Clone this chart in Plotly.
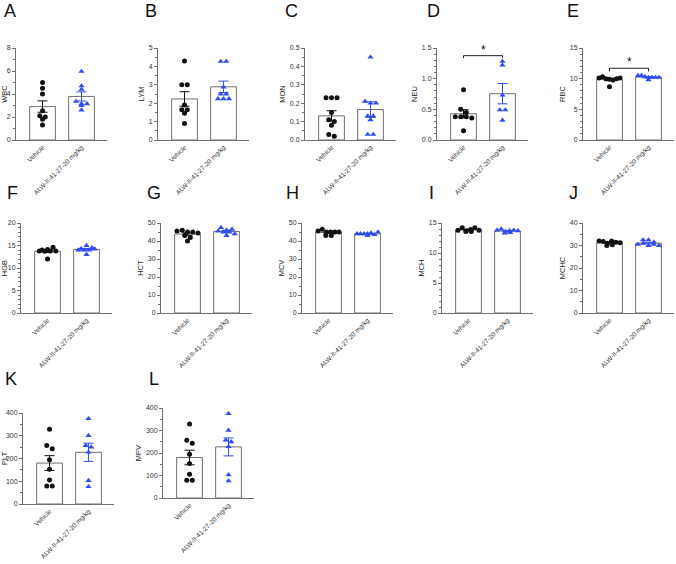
import numpy as np
import plotly.graph_objects as go

W, H = 676, 564

categories = ["Vehicle", "ALW-II-41-27-20 mg/kg"]
panel_letters = ["A", "B", "C", "D", "E", "F", "G", "H", "I", "J", "K", "L"]
measures = ["WBC", "LYM", "MON", "NEU", "RBC", "HGB", "HCT", "MCV", "MCH", "MCHC", "PLT", "MPV"]

wbc_vehicle = [5.0, 4.5, 4.0, 2.55, 2.1, 2.0, 1.8, 1.3]
wbc_alw = [5.96, 4.7, 4.4, 3.35, 3.15, 3.15, 3.0, 2.6]
lym_vehicle = [4.3, 3.0, 3.0, 1.9, 1.65, 1.65, 1.45, 0.9]
lym_alw = [4.27, 4.27, 2.87, 2.5, 2.5, 2.24, 2.24, 2.24]
mon_vehicle = [0.23, 0.23, 0.23, 0.15, 0.11, 0.10, 0.08, 0.03, 0.02]
mon_alw = [0.45, 0.21, 0.20, 0.20, 0.13, 0.13, 0.11, 0.03, 0.03]
neu_vehicle = [0.82, 0.50, 0.45, 0.38, 0.38, 0.38, 0.36, 0.15]
neu_alw = [1.28, 1.22, 0.73, 0.49, 0.49, 0.32]
rbc_vehicle = [10.1, 10.3, 10.0, 9.9, 9.8, 10.0, 10.1, 8.7]
rbc_alw = [10.5, 10.5, 10.3, 10.2, 10.2, 10.2, 10.2, 9.8]
hgb_vehicle = [14.0, 14.1, 13.8, 13.7, 14.6, 13.8, 13.8, 12.0]
hgb_alw = [14.3, 14.0, 15.0, 14.5, 14.0, 13.0, 14.0, 14.2]
hct_vehicle = [45.5, 46.0, 45.0, 45.0, 44.5, 43.0, 42.0, 40.0]
hct_alw = [47.5, 45.5, 46.0, 45.0, 46.5, 45.0, 43.0, 44.0]
mcv_vehicle = [45.5, 46.5, 45.0, 45.0, 45.0, 45.0, 43.0, 43.0]
mcv_alw = [44.0, 44.0, 44.0, 44.0, 44.5, 43.5, 43.0, 45.0]
mch_vehicle = [13.8, 14.2, 13.7, 13.9, 14.2, 13.6, 13.8, 13.6]
mch_alw = [13.8, 14.0, 13.6, 13.3, 13.7, 13.4, 13.8, 13.7]
mchc_vehicle = [32.0, 30.0, 31.8, 31.0, 32.0, 31.5, 30.3, 31.2]
mchc_alw = [30.5, 32.5, 31.0, 30.0, 32.5, 30.5, 31.5, 30.0]
plt_vehicle = [329, 257, 243, 194, 153, 106, 79, 79]
plt_alw = [375, 301, 257, 250, 228, 103, 76]
mpv_vehicle = [329, 257, 243, 194, 153, 106, 79, 79]
mpv_alw = [375, 301, 257, 250, 228, 103, 76]

vehicle_data = [wbc_vehicle, lym_vehicle, mon_vehicle, neu_vehicle, rbc_vehicle, hgb_vehicle,
                hct_vehicle, mcv_vehicle, mch_vehicle, mchc_vehicle, plt_vehicle, mpv_vehicle]
alw_data = [wbc_alw, lym_alw, mon_alw, neu_alw, rbc_alw, hgb_alw,
            hct_alw, mcv_alw, mch_alw, mchc_alw, plt_alw, mpv_alw]

# axis scales: (ymax, major dtick, minor dtick, tickformat)
y_max = [8, 5, 0.5, 1.5, 15, 20, 50, 50, 15, 40, 400, 400]
y_dtick = [2, 1, 0.1, 0.5, 5, 5, 10, 10, 5, 10, 100, 100]
y_minor = [1, 0.5, 0.05, 0.1, 1, 1, 5, 5, 1, 5, 50, 50]
y_fmt = ["", "", ".1f", ".1f", "", "", "", "", "", "", "", ""]

# layout in pixels: y-axis x position, top y, zero y
axis_x = [16, 158, 305, 437, 583, 21, 161, 302, 442, 583, 23, 163]
axis_top = [48, 48, 48, 48, 48, 223, 223, 223, 223, 223, 413, 408]
axis_zero = [140, 140, 140, 140, 140, 313, 313, 313, 313, 313, 504, 498]
letter_pos = [(2, 11), (143, 11), (283, 11), (425, 11), (565, 11),
              (5, 193), (145, 193), (284, 193), (427, 193), (567, 193),
              (3, 379), (147, 379)]

XR = (-0.68, 1.65)
PX_PER_CAT = 39.0
BLACK = "#111111"
BLUE = "#2f4cf5"
GRAY = "#707070"


def swarm(values, py_per_unit, d_px, max_span_px=21.0):
    vals = np.asarray(values, float)
    order = np.argsort(-vals, kind="stable")
    offsets = np.zeros(len(vals))
    rows = []
    for i in order:
        if rows and abs(vals[rows[-1][0]] - vals[i]) * py_per_unit < d_px * 0.6:
            rows[-1].append(i)
        else:
            rows.append([i])
    for r in rows:
        r = sorted(r)  # keep data order within a row
        n = len(r)
        step = d_px
        if n > 1:
            step = min(d_px, max_span_px / (n - 1))
        for k, i in enumerate(r):
            offsets[i] = (k - (n - 1) / 2) * step / PX_PER_CAT
    return offsets


fig = go.Figure()
annotations = []
shapes = []
for p in range(12):
    ax = "" if p == 0 else str(p + 1)
    xref, yref = "x" + ax, "y" + ax
    x0 = axis_x[p] / W
    x1 = (axis_x[p] + (XR[1] - XR[0]) * PX_PER_CAT) / W
    yd0 = 1 - axis_zero[p] / H
    yd1 = 1 - axis_top[p] / H
    py_unit = (axis_zero[p] - axis_top[p]) / y_max[p]
    groups = [vehicle_data[p], alw_data[p]]
    means = [float(np.mean(g)) for g in groups]
    sems = [float(np.std(g, ddof=1) / np.sqrt(len(g))) for g in groups]
    fig.add_trace(go.Bar(x=[0, 1], y=means, width=0.66, xaxis=xref, yaxis=yref,
                         marker=dict(color="white", line=dict(color=GRAY, width=1)),
                         showlegend=False, hoverinfo="skip"))
    for gi, (g, col, sym, sz) in enumerate(zip(groups, [BLACK, BLUE],
                                               ["circle", "triangle-up"], [5.0, 5.5])):
        off = swarm(g, py_unit, 5.5)
        fig.add_trace(go.Scatter(x=gi + off, y=g, mode="markers", xaxis=xref, yaxis=yref,
                                 marker=dict(color=col, symbol=sym, size=sz, line=dict(width=0)),
                                 cliponaxis=False, showlegend=False, hoverinfo="skip"))
        fig.add_trace(go.Scatter(x=[gi], y=[means[gi]], mode="markers", xaxis=xref, yaxis=yref,
                                 marker=dict(color="rgba(0,0,0,0)", size=1),
                                 error_y=dict(type="data", array=[sems[gi]], color=col,
                                              thickness=1, width=5),
                                 cliponaxis=False, showlegend=False, hoverinfo="skip"))
    fig.layout["xaxis" + ax] = dict(
        domain=[x0, x1], range=list(XR), anchor=yref, showline=True, linecolor=GRAY,
        linewidth=1, showgrid=False, zeroline=False, tickmode="array", tickvals=[0, 1],
        ticktext=categories, tickangle=-45, ticks="", tickfont=dict(size=6.5, color="#333"),
        automargin=False, fixedrange=True)
    fig.layout["yaxis" + ax] = dict(
        domain=[yd0, yd1], range=[0, y_max[p]], anchor=xref, showline=True, linecolor=GRAY,
        linewidth=1, showgrid=False, zeroline=False, dtick=y_dtick[p], tick0=0,
        tickformat=y_fmt[p], ticks="outside", ticklen=3, tickcolor=GRAY,
        minor=dict(dtick=y_minor[p], ticks="outside", ticklen=2, tickcolor=GRAY),
        tickfont=dict(size=7, color="#333"),
        title=dict(text=measures[p], font=dict(size=7.5, color="#222"), standoff=3),
        automargin=False, fixedrange=True)
    lx, ly = letter_pos[p]
    annotations.append(dict(x=lx / W, y=1 - ly / H, xref="paper", yref="paper",
                            text=panel_letters[p], showarrow=False, xanchor="left",
                            yanchor="middle", font=dict(size=18, color="#111",
                                                        family="Liberation Sans, Arial")))

# significance brackets (NEU, RBC)
sig_panels = [3, 4]
sig_y = [1.375, 11.7]
sig_drop = [0.04, 0.5]
for p, yb, dr in zip(sig_panels, sig_y, sig_drop):
    ax = str(p + 1)
    shapes.append(dict(type="path", xref="x" + ax, yref="y" + ax,
                       path=f"M 0 {yb - dr} L 0 {yb} L 1 {yb} L 1 {yb - dr}",
                       line=dict(color="#222", width=1)))
    annotations.append(dict(x=0.5, y=yb, xref="x" + ax, yref="y" + ax, text="*",
                            showarrow=False, yanchor="bottom", yshift=-3,
                            font=dict(size=12, color="#111")))

fig.update_layout(width=W, height=H, margin=dict(l=0, r=0, t=0, b=0, autoexpand=False),
                  paper_bgcolor="white", plot_bgcolor="white",
                  font=dict(family="Liberation Sans, Arial, sans-serif"),
                  annotations=annotations, shapes=shapes, barmode="overlay",
                  hovermode=False)
fig.write_html("out.html", config={"displayModeBar": False},
               post_script="document.body.style.margin='0';document.body.style.padding='0';")
